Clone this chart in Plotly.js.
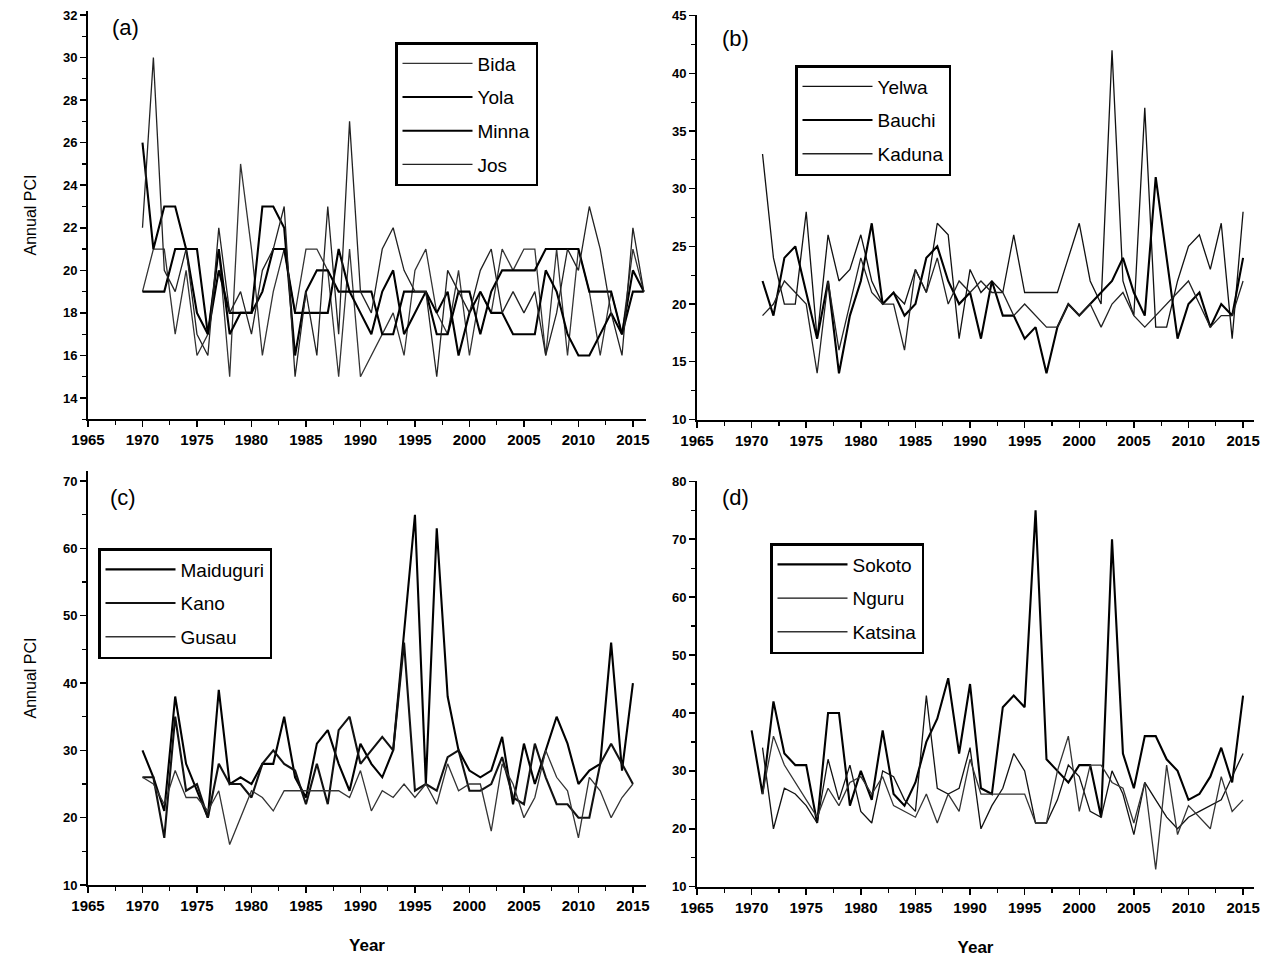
<!DOCTYPE html>
<html><head><meta charset="utf-8">
<script src="https://cdn.plot.ly/plotly-3.0.1.min.js"></script>
<style>body{margin:0;background:#fff}#chart{width:1269px;height:957px}</style>
</head><body><div id="chart"></div>
<script>
// ---------- data ----------
const startA = 1970, endA = 2016;      // panel (a)
const startB = 1971, endB = 2015;      // panel (b), Nguru/Katsina in (d)
const startC = 1970, endC = 2015;      // panel (c), Sokoto in (d)

const bida  = [19,21,21,17,20,16,17,21,15,25,21,16,19,21,18,21,21,20,15,21,15,16,17,18,16,20,21,18,17,20,16,19,18,21,20,21,21,16,21,16,21,19,16,19,17,21,19];
const yola  = [19,19,19,21,21,21,17,20,18,18,18,19,21,21,18,18,18,18,21,19,19,19,17,17,19,19,19,17,17,19,19,17,19,20,20,20,20,21,21,21,21,19,19,19,17,19,19];
const minna = [26,21,23,23,21,18,17,21,17,18,18,23,23,22,16,19,20,20,19,19,18,17,19,20,17,18,19,18,19,16,18,19,18,18,17,17,17,20,19,17,16,16,17,18,17,20,19];
const jos   = [22,30,20,19,21,17,16,22,18,19,17,20,21,23,15,19,16,23,17,27,19,18,21,22,20,19,19,15,20,19,18,20,21,18,19,18,19,16,18,21,20,23,21,18,16,22,19];

const yelwa  = [33,24,20,20,28,17,26,22,23,26,22,20,21,20,23,21,27,26,17,23,21,22,21,26,21,21,21,21,24,27,22,20,42,22,19,37,18,18,22,25,26,23,27,17,28];
const bauchi = [22,19,24,25,21,17,22,14,19,22,27,20,21,19,20,24,25,22,20,21,17,22,19,19,17,18,14,18,20,19,20,21,22,24,21,19,31,24,17,20,21,18,20,19,24];
const kaduna = [19,20,22,21,20,14,22,16,20,24,21,20,20,16,23,21,24,20,22,21,22,21,21,19,20,19,18,18,20,19,20,18,20,21,19,18,19,20,21,22,20,18,19,19,22];

const maiduguri = [30,26,21,38,28,24,20,39,25,26,25,28,28,35,26,23,31,33,28,24,31,28,26,30,48,65,25,63,38,30,27,26,27,32,22,31,25,30,35,31,25,27,28,46,27,40];
const kano      = [26,26,17,35,24,25,20,28,25,25,23,28,30,28,27,22,28,22,33,35,28,30,32,30,46,24,25,24,29,30,24,24,25,29,23,22,31,26,22,22,20,20,28,31,28,25];
const gusau     = [26,25,22,27,23,23,21,24,16,20,24,23,21,24,24,24,24,24,24,23,27,21,24,23,25,23,25,22,28,24,25,25,18,28,25,20,23,30,26,24,17,26,24,20,23,25];

const sokoto  = [37,26,42,33,31,31,21,40,40,24,30,25,37,26,24,28,35,39,46,33,45,27,26,41,43,41,75,32,30,28,31,31,22,70,33,27,36,36,32,30,25,26,29,34,28,43];
const nguru   = [34,20,27,26,24,21,32,25,31,23,21,30,29,25,23,43,27,26,27,34,20,24,27,33,30,21,21,25,31,29,23,22,30,26,19,28,25,22,20,22,23,24,25,29,33];
const katsina = [26,36,31,28,25,22,27,24,28,29,26,29,24,23,22,26,21,26,23,32,26,26,26,26,26,21,21,30,36,23,31,31,28,27,21,28,13,31,19,24,22,20,29,23,25];

const xTickVals = [1965,1970,1975,1980,1985,1990,1995,2000,2005,2010,2015];

function yrs(a,b){const o=[];for(let y=a;y<=b;y++)o.push(y);return o;}
const yearsA = yrs(startA,endA), yearsB = yrs(startB,endB), yearsC = yrs(startC,endC);

// ---------- traces ----------
const THIN = 1.3, THICK = 2.1;
function tr(x,y,name,w,xa,ya,lg,col){
  return {x:x,y:y,name:name,type:'scatter',mode:'lines',xaxis:xa,yaxis:ya,legend:lg,
          legendgroup:name,line:{color:col||'#000',width:w}};
}
const data = [
  tr(yearsA,bida,'Bida',THIN,'x','y','legend','#333'),
  tr(yearsA,yola,'Yola',THICK,'x','y','legend'),
  tr(yearsA,minna,'Minna',THICK,'x','y','legend'),
  tr(yearsA,jos,'Jos',THIN,'x','y','legend','#222'),
  tr(yearsB,yelwa,'Yelwa',THIN,'x2','y2','legend2','#111'),
  tr(yearsB,bauchi,'Bauchi',THICK,'x2','y2','legend2'),
  tr(yearsB,kaduna,'Kaduna',THIN,'x2','y2','legend2','#222'),
  tr(yearsC,maiduguri,'Maiduguri',THICK,'x3','y3','legend3'),
  tr(yearsC,kano,'Kano',THICK,'x3','y3','legend3','#111'),
  tr(yearsC,gusau,'Gusau',THIN,'x3','y3','legend3','#333'),
  tr(yearsC,sokoto,'Sokoto',THICK,'x4','y4','legend4'),
  tr(yearsB,nguru,'Nguru',THIN,'x4','y4','legend4','#111'),
  tr(yearsB,katsina,'Katsina',THIN,'x4','y4','legend4','#333')
];

// ---------- layout ----------
const FONT = 'Arial, "Liberation Sans", sans-serif';
function xax(dom,title){
  const a = {domain:dom, range:[1965,2016.2], tickvals:xTickVals, ticks:'outside', ticklen:6, tickwidth:1.5,
    tickcolor:'#000', showline:true, linecolor:'#000', linewidth:2, showgrid:false, zeroline:false,
    minor:{ticks:'outside', ticklen:4, tickwidth:1.2, tickcolor:'#000', dtick:2.5, tick0:1965, showgrid:false},
    tickfont:{family:FONT, size:15, color:'#000', weight:'bold'}, fixedrange:true};
  if(title) a.title = {text:title, font:{family:FONT,size:17,color:'#000',weight:'bold'}, standoff:26};
  return a;
}
function yax(dom,range,dtick,minor,anchor,title){
  const a = {domain:dom, range:range, dtick:dtick, tick0:0, ticks:'outside', ticklen:6, tickwidth:1.5,
    tickcolor:'#000', showline:true, linecolor:'#000', linewidth:2, showgrid:false, zeroline:false, anchor:anchor,
    minor:{ticks:'outside', ticklen:4, tickwidth:1.2, tickcolor:'#000', dtick:minor, showgrid:false},
    tickfont:{family:FONT, size:13, color:'#000', weight:'bold'}, fixedrange:true};
  if(title) a.title = {text:title, font:{family:FONT,size:16,color:'#000'}, standoff:22};
  return a;
}
function leg(x,y){
  return {x:x, y:y, xanchor:'left', yanchor:'top', xref:'paper', yref:'paper',
    bgcolor:'#fff', bordercolor:'#000', borderwidth:2.5,
    font:{family:FONT, size:19, color:'#000'}, tracegroupgap:6, traceorder:'grouped', itemwidth:70};
}
const W=1269, H=957;
const layout = {
  width:W, height:H, margin:{l:0,r:0,t:0,b:0}, paper_bgcolor:'#fff', plot_bgcolor:'#fff',
  showlegend:true,
  xaxis:  Object.assign(xax([88/W,646/W]), {anchor:'y'}),
  yaxis:  yax([1-419.3/H,1-10.7/H],[13,32.2],2,1,'x','Annual PCI'),
  xaxis2: Object.assign(xax([697/W,1254/W]), {anchor:'y2', range:[1965,2016]}),
  yaxis2: yax([1-420/H,1-15/H],[9.95,45.05],5,2.5,'x2'),
  xaxis3: Object.assign(xax([88/W,646/W],'Year'), {anchor:'y3'}),
  yaxis3: yax([1-885/H,1-471/H],[10,71.5],10,5,'x3','Annual PCI'),
  xaxis4: Object.assign(xax([697/W,1254/W],'Year'), {anchor:'y4', range:[1965,2016]}),
  yaxis4: yax([1-887/H,1-481/H],[9.95,80.05],10,5,'x4'),
  legend:  leg(395/W, 1-42/H),
  legend2: leg(795/W, 1-65/H),
  legend3: leg(98/W, 1-548/H),
  legend4: leg(770/W, 1-543/H),
  annotations:[
    {text:'(a)', x:110/W, y:1-27/H, xref:'paper', yref:'paper', showarrow:false, xanchor:'left', yanchor:'middle', font:{family:FONT,size:22,color:'#000'}},
    {text:'(b)', x:720/W, y:1-38/H, xref:'paper', yref:'paper', showarrow:false, xanchor:'left', yanchor:'middle', font:{family:FONT,size:22,color:'#000'}},
    {text:'(c)', x:108/W, y:1-497/H, xref:'paper', yref:'paper', showarrow:false, xanchor:'left', yanchor:'middle', font:{family:FONT,size:22,color:'#000'}},
    {text:'(d)', x:720/W, y:1-497/H, xref:'paper', yref:'paper', showarrow:false, xanchor:'left', yanchor:'middle', font:{family:FONT,size:22,color:'#000'}}
  ]
};
Plotly.newPlot('chart', data, layout, {staticPlot:true, displayModeBar:false});
</script></body></html>
